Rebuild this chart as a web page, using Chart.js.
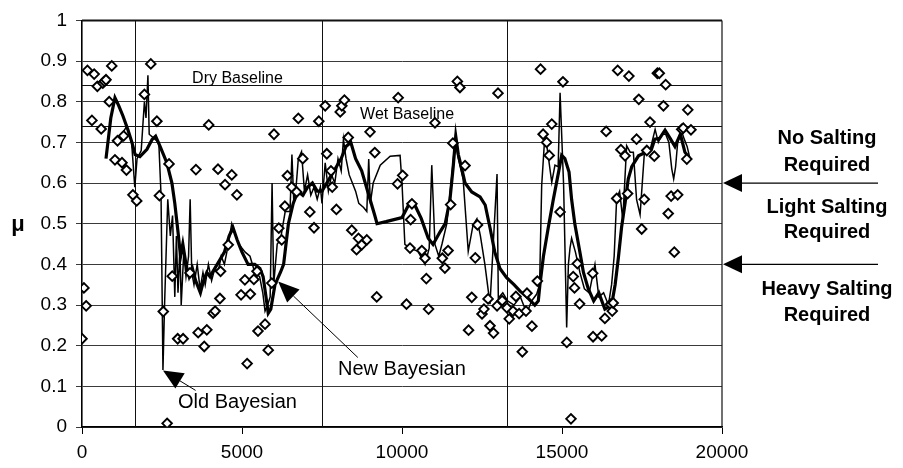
<!DOCTYPE html>
<html>
<head>
<meta charset="utf-8">
<script src="https://cdn.jsdelivr.net/npm/chart.js@4/dist/chart.umd.min.js"></script>
<style>
  body { margin: 0; background: #fff; }
  #wrap { width: 903px; height: 468px; }
</style>
</head>
<body>
<div id="wrap"><canvas id="grafico" width="903" height="468"></canvas></div>
<script>
// tick labels
const xTickLabels = ['0', '5000', '10000', '15000', '20000'];
const yTickLabels = ['0', '0.1', '0.2', '0.3', '0.4', '0.5', '0.6', '0.7', '0.8', '0.9', '1'];

// measured friction (diamonds)
const medidoX = [0, 60, 130, 170, 310, 380, 480, 600, 650, 700, 750, 850, 930, 1030, 1110, 1250, 1300, 1390, 1590, 1710,
  1950, 2150, 2340, 2420, 2540, 2660, 2720, 2820, 2990, 3160, 3375, 3560, 3630, 3820, 3900, 3960, 4100, 4160, 4250, 4310,
  4330, 4470, 4570, 4680, 4840, 4970, 5090, 5160, 5260, 5370, 5470, 5500, 5720, 5820, 5930, 6000, 6150, 6240, 6340, 6420,
  6550, 6708, 6760, 6900, 7120, 7250, 7400, 7600, 7650, 7780, 7820, 7950, 8070, 8120, 8200, 8320, 8430, 8580, 8640, 8740,
  8900, 9000, 9150, 9210, 9860, 9880, 10020, 10140, 10250, 10270, 10310, 10620, 10720, 10760, 10830, 11030, 11260, 11340, 11440, 11520,
  11590, 11730, 11810, 11970, 12080, 12180, 12290, 12360, 12500, 12560, 12690, 12750, 12860, 12970, 13000, 13130, 13280, 13350, 13470, 13560,
  13660, 13760, 13875, 13906, 14060, 14230, 14330, 14410, 14520, 14600, 14680, 14940, 15030, 15150, 15280, 15350, 15390, 15480, 15550, 15960,
  15970, 16240, 16340, 16380, 16520, 16570, 16600, 16710, 16740, 16840, 16970, 17050, 17090, 17330, 17400, 17490, 17570, 17650, 17750, 17885,
  17980, 18040, 18170, 18240, 18320, 18410, 18510, 18615, 18740, 18790, 18900, 18930, 19030];
const medidoY = [0.217, 0.342, 0.298, 0.877, 0.754, 0.868, 0.838, 0.733, 0.846, 0.850, 0.854, 0.800, 0.888, 0.657, 0.704, 0.650, 0.716, 0.632, 0.571, 0.556,
  0.818, 0.893, 0.752, 0.569, 0.284, 0.009, 0.647, 0.371, 0.217, 0.217, 0.379, 0.633, 0.232, 0.198, 0.239, 0.743, 0.280, 0.285, 0.634, 0.316,
  0.383, 0.596, 0.448, 0.620, 0.571, 0.325, 0.362, 0.156, 0.327, 0.363, 0.383, 0.236, 0.253, 0.189, 0.354, 0.720, 0.489, 0.460, 0.543, 0.618,
  0.590, 0.578, 0.759, 0.660, 0.529, 0.490, 0.752, 0.790, 0.672, 0.630, 0.590, 0.535, 0.775, 0.790, 0.804, 0.712, 0.484, 0.436, 0.464, 0.448,
  0.460, 0.726, 0.675, 0.320, 0.598, 0.810, 0.619, 0.302, 0.440, 0.510, 0.549, 0.434, 0.415, 0.365, 0.290, 0.748, 0.415, 0.391, 0.434, 0.547,
  0.698, 0.850, 0.835, 0.643, 0.238, 0.319, 0.416, 0.497, 0.278, 0.290, 0.315, 0.249, 0.231, 0.298, 0.821, 0.311, 0.293, 0.266, 0.285, 0.321,
  0.279, 0.185, 0.285, 0.329, 0.248, 0.359, 0.880, 0.720, 0.700, 0.668, 0.745, 0.529, 0.849, 0.208, 0.020, 0.370, 0.342, 0.402, 0.303, 0.378,
  0.222, 0.224, 0.267, 0.727, 0.302, 0.285, 0.305, 0.562, 0.877, 0.682, 0.667, 0.574, 0.863, 0.708, 0.806, 0.487, 0.560, 0.680, 0.750, 0.666,
  0.870, 0.870, 0.790, 0.842, 0.525, 0.568, 0.430, 0.571, 0.732, 0.735, 0.659, 0.780, 0.731];

// heavy line
const grossaX = [750, 900, 1030, 1150, 1280, 1440, 1560, 1660, 1810, 2030, 2190, 2300, 2440, 2650, 2810, 2900, 3000, 3080, 3150, 3250,
  3350, 3450, 3550, 3700, 3800, 3900, 4000, 4150, 4300, 4450, 4600, 4720, 4850, 5000, 5190, 5400, 5560, 5660, 5750, 5820,
  5900, 6030, 6200, 6300, 6450, 6600, 6750, 6900, 7050, 7200, 7350, 7500, 7650, 7800, 7950, 8100, 8250, 8400, 8550, 8740,
  9000, 9150, 9220, 9500, 10000, 10100, 10250, 10400, 10600, 10820, 10970, 11190, 11350, 11500, 11600, 11680, 11760, 11870, 11970, 12180,
  12440, 12600, 12750, 12900, 13060, 13270, 13500, 13690, 13900, 14150, 14260, 14310, 14420, 14570, 14730, 14900, 14990, 15090, 15220, 15300,
  15400, 15560, 15670, 15820, 15990, 16150, 16340, 16550, 16660, 16760, 16860, 16970, 17070, 17180, 17390, 17600, 17800, 17900, 18050, 18220,
  18380, 18530, 18700, 18840, 19000];
const grossaY = [0.66, 0.76, 0.81, 0.79, 0.765, 0.73, 0.70, 0.67, 0.665, 0.683, 0.707, 0.715, 0.69, 0.65, 0.60, 0.55, 0.48, 0.42, 0.45, 0.40,
  0.37, 0.39, 0.36, 0.33, 0.36, 0.38, 0.37, 0.39, 0.41, 0.43, 0.47, 0.49, 0.46, 0.43, 0.40, 0.40, 0.39, 0.37, 0.32, 0.28,
  0.29, 0.35, 0.38, 0.40, 0.50, 0.55, 0.58, 0.57, 0.59, 0.60, 0.58, 0.58, 0.60, 0.62, 0.64, 0.66, 0.69, 0.70, 0.66, 0.63,
  0.56, 0.52, 0.50, 0.505, 0.515, 0.53, 0.553, 0.546, 0.513, 0.464, 0.449, 0.48, 0.50, 0.56, 0.64, 0.715, 0.67, 0.635, 0.60, 0.578,
  0.566, 0.546, 0.49, 0.43, 0.39, 0.367, 0.35, 0.334, 0.32, 0.30, 0.31, 0.35, 0.42, 0.49, 0.56, 0.63, 0.668, 0.66, 0.627, 0.56,
  0.50, 0.43, 0.38, 0.34, 0.31, 0.33, 0.29, 0.30, 0.35, 0.415, 0.49, 0.55, 0.61, 0.64, 0.667, 0.675, 0.684, 0.708, 0.71, 0.73,
  0.71, 0.69, 0.72, 0.676, 0.66];

// light line
const finaX = [1100, 1250, 1400, 1550, 1650, 1720, 1850, 1950, 2000, 2060, 2100, 2250, 2400, 2470, 2530, 2580, 2680, 2760, 2830, 2900,
  2950, 3000, 3060, 3100, 3180, 3250, 3330, 3380, 3430, 3500, 3600, 3690, 3780, 3850, 3950, 4050, 4150, 4250, 4350, 4450,
  4550, 4680, 4800, 4900, 5000, 5100, 5250, 5400, 5550, 5650, 5720, 5800, 5880, 5940, 5990, 6100, 6200, 6350, 6500, 6560,
  6620, 6700, 6760, 6860, 6950, 7050, 7150, 7250, 7350, 7450, 7500, 7600, 7700, 7800, 7900, 8000, 8100, 8170, 8250, 8350,
  8450, 8550, 8650, 8800, 8900, 8960, 9010, 9100, 9320, 9630, 9940, 10000, 10090, 10250, 10500, 10720, 10850, 10930, 11030, 11150,
  11250, 11400, 11560, 11660, 11760, 11910, 12070, 12220, 12340, 12450, 12590, 12750, 12970, 13010, 13150, 13300, 13500, 13700, 13900, 14050,
  14210, 14300, 14365, 14470, 14580, 14680, 14780, 14880, 14940, 15050, 15146, 15200, 15250, 15300, 15420, 15560, 15700, 15850, 16030, 16150,
  16300, 16450, 16550, 16630, 16708, 16800, 16900, 17020, 17130, 17230, 17330, 17440, 17500, 17580, 17750, 17910, 18010, 18130, 18240, 18340,
  18430, 18490, 18550, 18615, 18720, 18820, 18910, 19000];
const finaY = [0.70, 0.72, 0.74, 0.70, 0.59, 0.66, 0.68, 0.80, 0.76, 0.865, 0.72, 0.71, 0.70, 0.57, 0.14, 0.30, 0.56, 0.47, 0.52, 0.32,
  0.47, 0.33, 0.44, 0.30, 0.43, 0.37, 0.42, 0.56, 0.38, 0.35, 0.40, 0.34, 0.38, 0.35, 0.40, 0.36, 0.39, 0.38, 0.42, 0.40,
  0.44, 0.50, 0.47, 0.45, 0.44, 0.43, 0.42, 0.38, 0.37, 0.33, 0.285, 0.30, 0.32, 0.60, 0.35, 0.45, 0.46, 0.53, 0.53, 0.67,
  0.55, 0.60, 0.66, 0.677, 0.58, 0.62, 0.57, 0.59, 0.56, 0.59, 0.55, 0.65, 0.58, 0.62, 0.60, 0.66, 0.63, 0.708, 0.66, 0.62,
  0.60, 0.58, 0.55, 0.54, 0.53, 0.659, 0.55, 0.60, 0.644, 0.666, 0.668, 0.60, 0.449, 0.44, 0.432, 0.40, 0.44, 0.644, 0.449, 0.42,
  0.45, 0.50, 0.62, 0.707, 0.66, 0.61, 0.432, 0.497, 0.512, 0.47, 0.40, 0.302, 0.622, 0.317, 0.33, 0.31, 0.30, 0.32, 0.28, 0.31,
  0.327, 0.35, 0.594, 0.724, 0.66, 0.602, 0.644, 0.64, 0.822, 0.595, 0.245, 0.40, 0.44, 0.464, 0.43, 0.38, 0.34, 0.33, 0.40, 0.32,
  0.33, 0.30, 0.35, 0.42, 0.562, 0.58, 0.51, 0.692, 0.676, 0.676, 0.56, 0.522, 0.59, 0.68, 0.68, 0.732, 0.70, 0.72, 0.72, 0.70,
  0.635, 0.61, 0.64, 0.70, 0.732, 0.708, 0.69, 0.66];

// reference lines
const zonasX = [1650, 7500, 13280];
const linhasBase = [{ nome: 'Dry Baseline', valor: 0.84 }, { nome: 'Wet Baseline', valor: 0.74 }];
const limitesSal = [0.6, 0.4];
const rotulosSal = [['No Salting', 'Required'], ['Light Salting', 'Required'], ['Heavy Salting', 'Required']];

const pontos = (xs, ys) => xs.map((x, i) => ({ x: x, y: ys[i] }));
const FONTE = '"Liberation Sans", Arial, sans-serif';

function seta(ctx, x0, y0, x1, y1, tam, meia) {
  // line from (x0,y0) to tip (x1,y1) with filled head
  const ang = Math.atan2(y1 - y0, x1 - x0);
  ctx.beginPath();
  ctx.moveTo(x0, y0);
  ctx.lineTo(x1 - Math.cos(ang) * tam, y1 - Math.sin(ang) * tam);
  ctx.stroke();
  ctx.beginPath();
  ctx.moveTo(x1, y1);
  ctx.lineTo(x1 - Math.cos(ang) * tam - Math.sin(ang) * meia, y1 - Math.sin(ang) * tam + Math.cos(ang) * meia);
  ctx.lineTo(x1 - Math.cos(ang) * tam + Math.sin(ang) * meia, y1 - Math.sin(ang) * tam - Math.cos(ang) * meia);
  ctx.closePath();
  ctx.fill();
}

const extras = {
  id: 'extras',
  beforeDatasetsDraw(chart) {
    const ctx = chart.ctx, xs = chart.scales.x, ys = chart.scales.y, a = chart.chartArea;
    ctx.save();
    ctx.strokeStyle = '#111';
    ctx.lineWidth = 1;
    zonasX.forEach(v => {
      const px = Math.round(xs.getPixelForValue(v)) + 0.5;
      ctx.beginPath(); ctx.moveTo(px, a.top); ctx.lineTo(px, a.bottom); ctx.stroke();
    });
    linhasBase.forEach(b => {
      const py = Math.round(ys.getPixelForValue(b.valor)) + 0.5;
      ctx.beginPath(); ctx.moveTo(a.left, py); ctx.lineTo(a.right, py); ctx.stroke();
    });
    // frame
    ctx.lineWidth = 2;
    ctx.beginPath(); ctx.moveTo(a.left, a.top); ctx.lineTo(a.right, a.top); ctx.stroke();
    ctx.lineWidth = 1.2;
    ctx.beginPath(); ctx.moveTo(a.right, a.top); ctx.lineTo(a.right, a.bottom); ctx.stroke();
    ctx.restore();
  },
  afterDraw(chart) {
    const ctx = chart.ctx, xs = chart.scales.x, ys = chart.scales.y, a = chart.chartArea;
    ctx.save();
    ctx.fillStyle = '#000';
    ctx.strokeStyle = '#000';
    // baseline captions
    ctx.font = '16px ' + FONTE;
    ctx.textAlign = 'left';
    ctx.textBaseline = 'alphabetic';
    ctx.fillText(linhasBase[0].nome, xs.getPixelForValue(3440), ys.getPixelForValue(linhasBase[0].valor) - 2);
    ctx.fillText(linhasBase[1].nome, xs.getPixelForValue(8690), ys.getPixelForValue(linhasBase[1].valor) - 7);

    // series captions with arrows
    ctx.font = '20px ' + FONTE;
    ctx.textBaseline = 'middle';
    ctx.fillText('Old Bayesian', xs.getPixelForValue(3000), ys.getPixelForValue(0.061));
    ctx.fillText('New Bayesian', xs.getPixelForValue(8000), ys.getPixelForValue(0.142));
    ctx.lineWidth = 1;
    seta(ctx, xs.getPixelForValue(3550), ys.getPixelForValue(0.09), xs.getPixelForValue(2530), ys.getPixelForValue(0.139), 20, 9);
    seta(ctx, xs.getPixelForValue(8620), ys.getPixelForValue(0.171), xs.getPixelForValue(6130), ys.getPixelForValue(0.358), 21, 9);

    // salting zones on the right
    ctx.lineWidth = 1.2;
    limitesSal.forEach(v => {
      const py = ys.getPixelForValue(v);
      seta(ctx, 878, py, a.right + 1, py, 19, 9);
    });
    ctx.font = 'bold 20px ' + FONTE;
    ctx.textAlign = 'center';
    const cx = 827;
    const linhasY = [[138, 165], [207, 232], [289, 315]];
    rotulosSal.forEach((r, i) => {
      ctx.fillText(r[0], cx, linhasY[i][0]);
      ctx.fillText(r[1], cx, linhasY[i][1]);
    });

    // y title
    ctx.font = 'bold 22px ' + FONTE;
    ctx.fillText('\u03bc', 18, ys.getPixelForValue(0.5) + 1);
    ctx.restore();
  }
};

new Chart(document.getElementById('grafico').getContext('2d'), {
  type: 'scatter',
  data: {
    datasets: [
      {
        label: 'Measured',
        data: pontos(medidoX, medidoY),
        showLine: false,
        pointStyle: 'rectRot',
        pointRadius: 4.8,
        pointBorderWidth: 1.9,
        borderColor: '#000',
        backgroundColor: '#fff',
        order: 0
      },
      {
        label: 'Old Bayesian',
        data: pontos(finaX, finaY),
        showLine: true,
        borderColor: '#000',
        borderWidth: 1.5,
        pointRadius: 0,
        tension: 0,
        order: 2
      },
      {
        label: 'New Bayesian',
        data: pontos(grossaX, grossaY),
        showLine: true,
        borderColor: '#000',
        borderWidth: 3.2,
        pointRadius: 0,
        tension: 0,
        order: 1
      }
    ]
  },
  options: {
    responsive: false,
    animation: false,
    layout: { padding: { top: 17, right: 181, left: 0, bottom: 0 } },
    plugins: { legend: { display: false }, tooltip: { enabled: false } },
    scales: {
      x: {
        type: 'linear',
        min: 0,
        max: 20000,
        afterFit: s => { s.height = 41; },
        ticks: {
          stepSize: 5000,
          color: '#000',
          padding: 7,
          maxRotation: 0,
          font: { family: FONTE, size: 19 },
          callback: (v, i) => xTickLabels[i]
        },
        grid: { drawOnChartArea: false, color: '#000', tickLength: 7 },
        border: { color: '#000', width: 1.6 }
      },
      y: {
        min: 0,
        max: 1,
        afterFit: s => { s.width = 82; },
        ticks: {
          stepSize: 0.1,
          color: '#000',
          padding: 9,
          font: { family: FONTE, size: 19 },
          callback: (v, i) => yTickLabels[i]
        },
        grid: { color: '#3a3a3a', lineWidth: 1, tickLength: 6 },
        border: { color: '#000', width: 1.6 }
      }
    }
  },
  plugins: [extras]
});
</script>
</body>
</html>
